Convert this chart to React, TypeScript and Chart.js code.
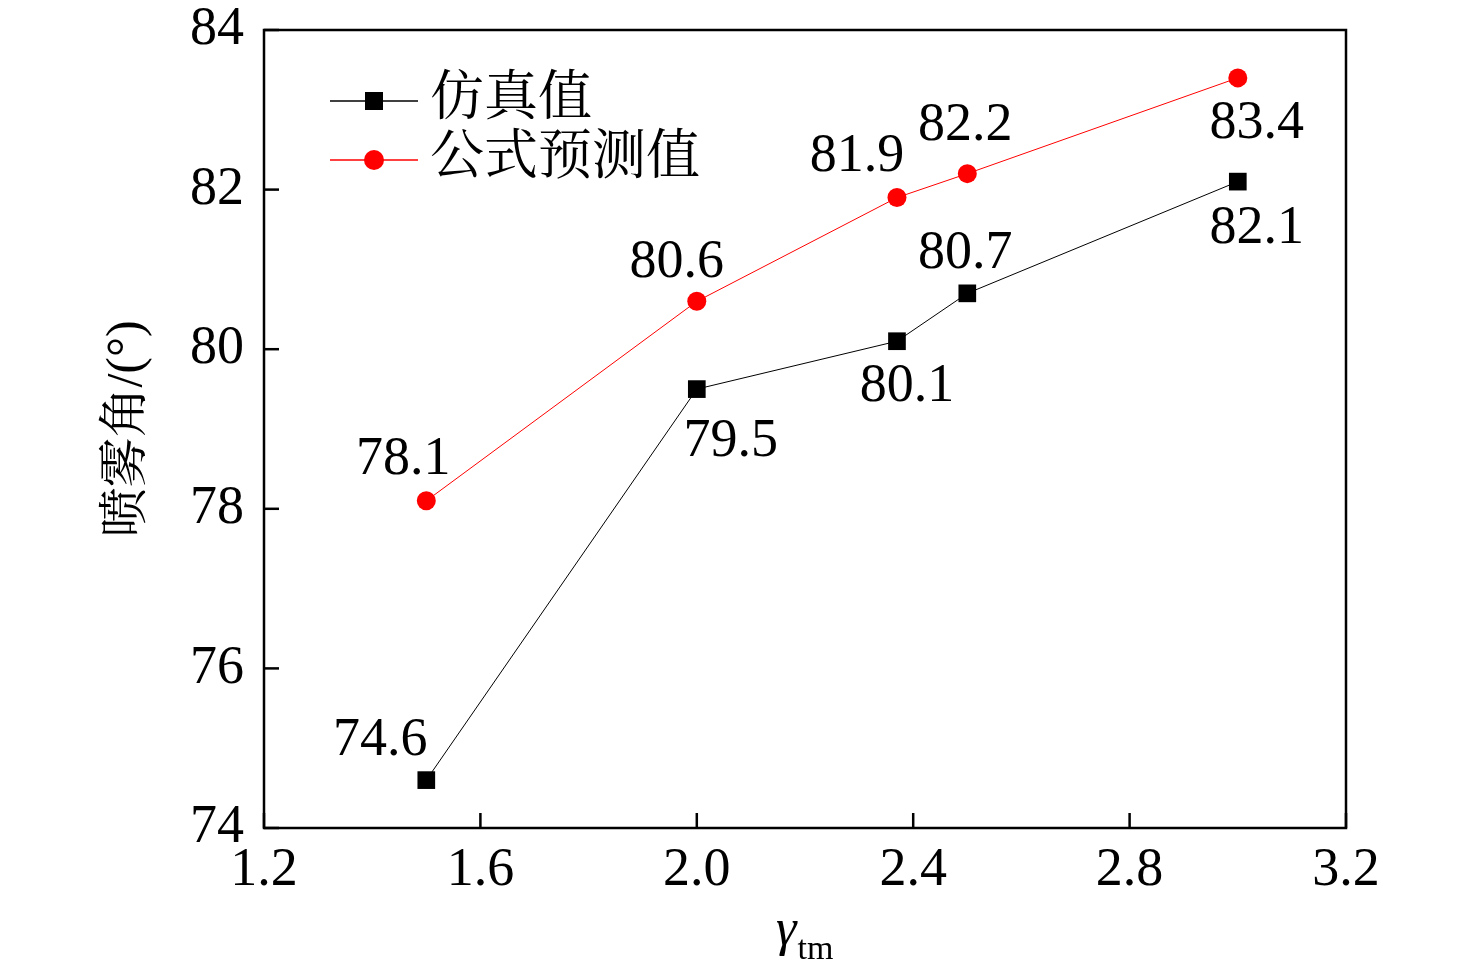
import { useEffect, useRef } from "react";
import { Chart, registerables, type Plugin } from "chart.js";

Chart.register(...registerables);

// x positions (γtm) shared by both series
const gammaValues = [1.5, 2.0, 2.37, 2.5, 3.0];
const simulated = [74.6, 79.5, 80.1, 80.7, 82.1];
const predicted = [78.1, 80.6, 81.9, 82.2, 83.4];
const seriesNames = ["仿真值", "公式预测值"];

// label offsets from each marker, in px
const simLabelOffsets = [
  [-46, -39],
  [34, 53],
  [10, 46],
  [-2, -40],
  [19, 47],
];
const predLabelOffsets = [
  [-23, -41],
  [-20, -39],
  [-40, -41],
  [-2, -48],
  [19, 46],
];

const SERIF = '"Liberation Serif", "Times New Roman", "DejaVu Serif", serif';
const CJK = '"Liberation Serif", "Noto Serif CJK SC", "Noto Sans CJK SC", serif';

const decorations: Plugin<"line"> = {
  id: "decorations",
  afterDatasetsDraw(chart) {
    const { ctx, chartArea: a, scales } = chart;
    const x = scales.x;
    const y = scales.y;
    ctx.save();

    // frame
    ctx.strokeStyle = "#000";
    ctx.lineWidth = 2.5;
    ctx.strokeRect(a.left, a.top, a.right - a.left, a.bottom - a.top);

    // inward ticks
    x.ticks.forEach((t) => {
      const px = x.getPixelForValue(t.value);
      ctx.beginPath();
      ctx.moveTo(px, a.bottom);
      ctx.lineTo(px, a.bottom - 15);
      ctx.stroke();
    });
    y.ticks.forEach((t) => {
      const py = y.getPixelForValue(t.value);
      ctx.beginPath();
      ctx.moveTo(a.left, py);
      ctx.lineTo(a.left + 15, py);
      ctx.stroke();
    });

    // data labels
    ctx.fillStyle = "#000";
    ctx.font = `54px ${SERIF}`;
    ctx.textAlign = "center";
    ctx.textBaseline = "middle";
    const drawLabels = (vals: number[], offs: number[][]) => {
      vals.forEach((v, i) => {
        const px = x.getPixelForValue(gammaValues[i]);
        const py = y.getPixelForValue(v);
        ctx.fillText(v.toFixed(1), px + offs[i][0], py + offs[i][1]);
      });
    };
    drawLabels(simulated, simLabelOffsets);
    drawLabels(predicted, predLabelOffsets);

    // legend
    const legendRows = [
      { name: seriesNames[0], color: "#000", shape: "rect", y: 101 },
      { name: seriesNames[1], color: "#ff0000", shape: "circle", y: 160 },
    ];
    legendRows.forEach((r) => {
      ctx.strokeStyle = r.color;
      ctx.lineWidth = 1.5;
      ctx.beginPath();
      ctx.moveTo(330, r.y);
      ctx.lineTo(418, r.y);
      ctx.stroke();
      ctx.fillStyle = r.color;
      if (r.shape === "rect") {
        ctx.fillRect(374 - 9, r.y - 9, 18, 18);
      } else {
        ctx.beginPath();
        ctx.arc(374, r.y, 10, 0, Math.PI * 2);
        ctx.fill();
      }
      ctx.fillStyle = "#000";
      ctx.font = `54px ${CJK}`;
      ctx.textAlign = "left";
      ctx.textBaseline = "middle";
      ctx.fillText(r.name, 430, r.y);
    });

    // y title
    ctx.save();
    ctx.translate(128, (a.top + a.bottom) / 2);
    ctx.rotate(-Math.PI / 2);
    ctx.font = `50px ${CJK}`;
    ctx.textAlign = "center";
    ctx.textBaseline = "middle";
    ctx.fillText("喷雾角/(°)", 0, 0);
    ctx.restore();

    // x title γ_tm
    ctx.font = `italic 52px ${SERIF}`;
    ctx.textAlign = "left";
    ctx.textBaseline = "alphabetic";
    const gx = 776;
    const gy = 945;
    ctx.fillText("γ", gx, gy);
    const gw = ctx.measureText("γ").width;
    ctx.font = `34px ${SERIF}`;
    ctx.fillText("tm", gx + gw + 1, gy + 14);

    ctx.restore();
  },
};

export default function App() {
  const canvasRef = useRef<HTMLCanvasElement>(null);

  useEffect(() => {
    if (!canvasRef.current) return;
    const chart = new Chart(canvasRef.current, {
      type: "line",
      data: {
        datasets: [
          {
            label: seriesNames[0],
            data: gammaValues.map((g, i) => ({ x: g, y: simulated[i] })),
            borderColor: "#000",
            backgroundColor: "#000",
            borderWidth: 1,
            pointStyle: "rect",
            pointRadius: 12.5,
            pointBorderWidth: 0,
          },
          {
            label: seriesNames[1],
            data: gammaValues.map((g, i) => ({ x: g, y: predicted[i] })),
            borderColor: "#ff0000",
            backgroundColor: "#ff0000",
            borderWidth: 1,
            pointStyle: "circle",
            pointRadius: 9.5,
            pointBorderWidth: 0,
          },
        ],
      },
      options: {
        animation: false,
        responsive: true,
        maintainAspectRatio: false,
        layout: { padding: { top: 30, right: 130, left: 0, bottom: 0 } },
        plugins: {
          legend: { display: false },
          tooltip: { enabled: false },
        },
        scales: {
          x: {
            type: "linear",
            min: 1.2,
            max: 3.2,
            grid: { display: false, drawTicks: false },
            border: { display: false },
            ticks: {
              stepSize: 0.4,
              padding: 10,
              color: "#000",
              font: { family: SERIF, size: 54 },
              callback: (v) => Number(v).toFixed(1),
            },
            afterFit: (s) => {
              s.height = 152;
              s.paddingLeft = 0;
              s.paddingRight = 0;
            },
          },
          y: {
            min: 74,
            max: 84,
            grid: { display: false, drawTicks: false },
            border: { display: false },
            ticks: {
              stepSize: 2,
              padding: 20,
              color: "#000",
              font: { family: SERIF, size: 54 },
            },
            afterFit: (s) => {
              s.width = 264;
              s.paddingTop = 0;
              s.paddingBottom = 0;
            },
          },
        },
      },
      plugins: [decorations],
    });
    return () => chart.destroy();
  }, []);

  return (
    <div
      style={{
        position: "fixed",
        left: 0,
        top: 0,
        width: 1476,
        height: 980,
        background: "#fff",
      }}
    >
      <canvas ref={canvasRef} />
    </div>
  );
}
